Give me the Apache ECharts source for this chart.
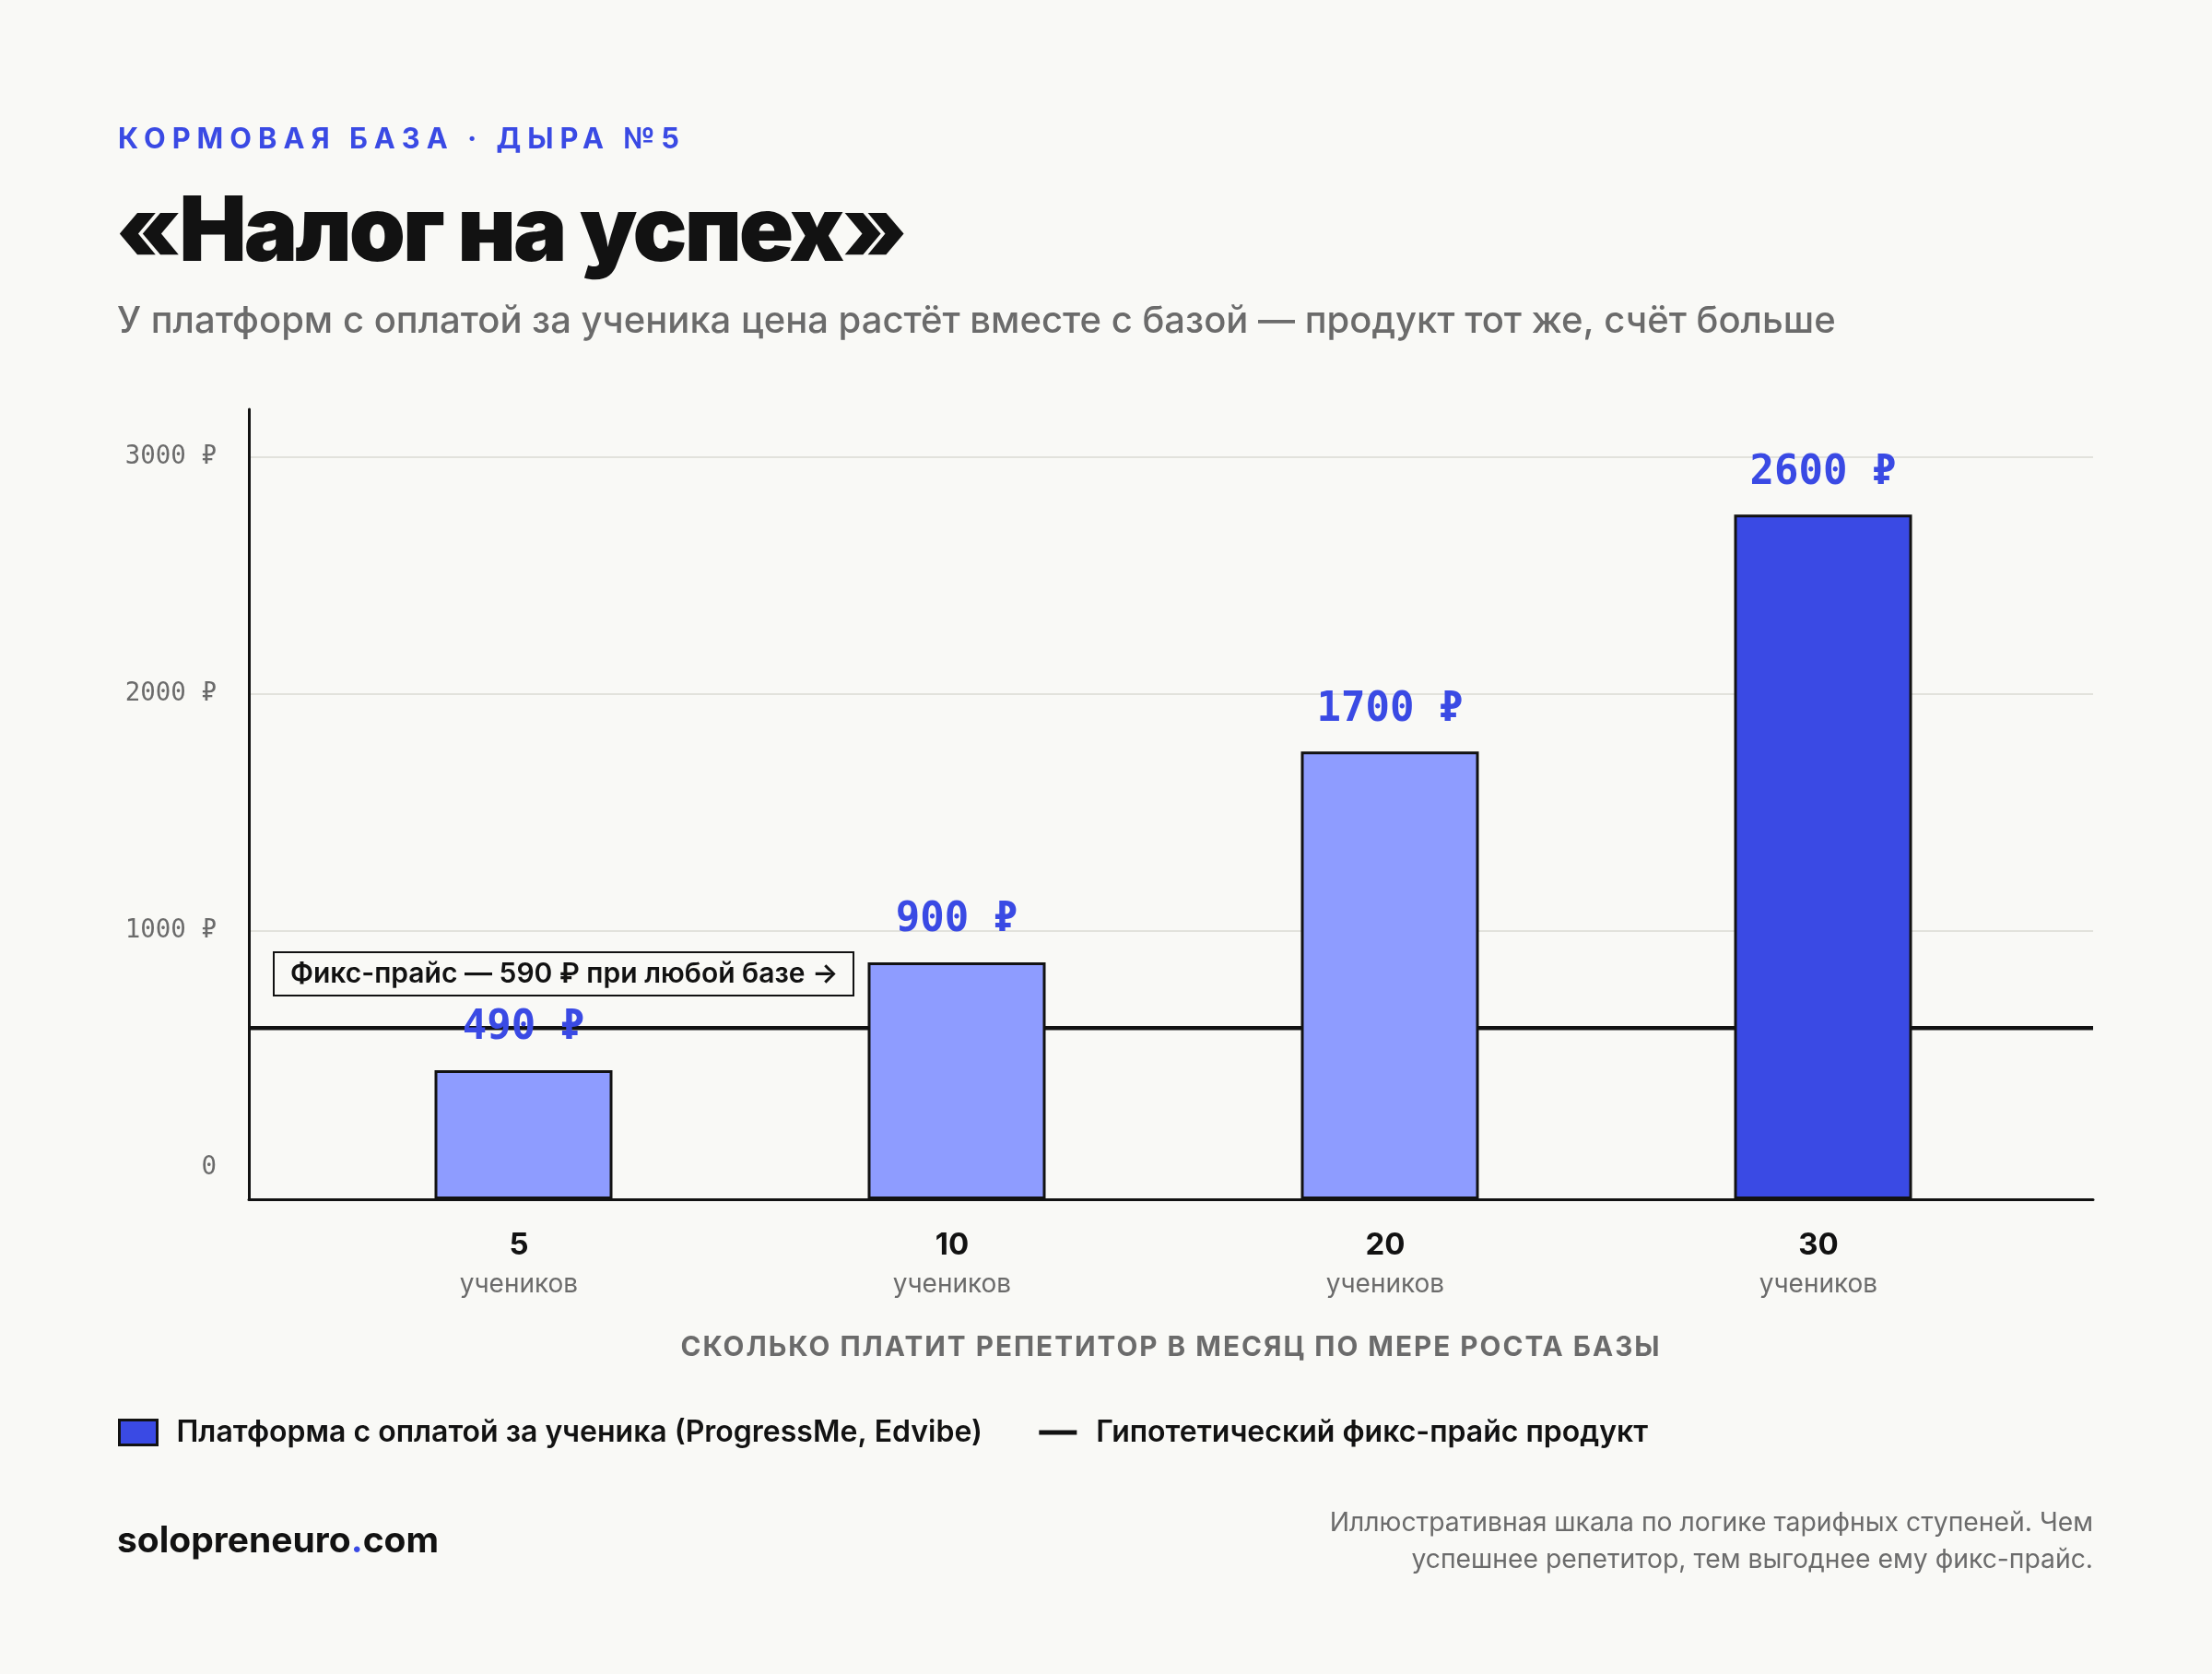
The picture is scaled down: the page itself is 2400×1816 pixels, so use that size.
<!DOCTYPE html>
<html>
<head>
<meta charset="utf-8">
<script src="https://cdn.jsdelivr.net/npm/echarts@6/dist/echarts.min.js"></script>
<style>
  html, body { margin: 0; padding: 0; background: #f9f9f6; }
  #chart { width: 2400px; height: 1816px; }
</style>
</head>
<body>
<div id="chart"></div>
<script>
// ---- data ----
const categories = ['5', '10', '20', '30'];
const categoryUnit = 'учеников';
const platformPrices = [490, 900, 1700, 2600];
const fixPrice = 590;
const yTickValues = [0, 1000, 2000, 3000];
const seriesNames = ['Платформа с оплатой за ученика (ProgressMe, Edvibe)', 'Гипотетический фикс-прайс продукт'];

// letter-spacing support: font family marker "lsNx" / "lsmNx"
(function () {
  const P = CanvasRenderingContext2D.prototype;
  const orig = P.fillText;
  P.fillText = function (t, x, y, m) {
    const f = this.font;
    const mt = /ls(m?)(\d+)x/.exec(f);
    if (mt && 'letterSpacing' in this) {
      this.letterSpacing = (mt[1] ? '-' : '') + mt[2] + 'px';
      this.font = f;
      if (m === undefined) orig.call(this, t, x, y); else orig.call(this, t, x, y, m);
      this.letterSpacing = '0px';
      this.font = f;
      return;
    }
    if ('letterSpacing' in this && this.letterSpacing !== '0px') { this.letterSpacing = '0px'; this.font = f; }
    if (m === undefined) return orig.call(this, t, x, y);
    return orig.call(this, t, x, y, m);
  };
})();

const BG = '#f9f9f6';
const BLUE = '#3a4ae4';
const LIGHT = '#8e9cff';
const INK = '#121212';
const GRAY = '#6b6b6b';
const SANS = 'Inter, "Noto Sans", sans-serif';
const MONO = '"DejaVu Sans Mono", "Liberation Mono", monospace';

const chart = echarts.init(document.getElementById('chart'), null, { renderer: 'canvas' });

const option = {
  backgroundColor: BG,
  animation: false,
  title: [
    { text: 'КОРМОВАЯ БАЗА · ДЫРА №5', left: 123, top: 127,
      textStyle: { fontFamily: 'Inter, ls7x, sans-serif', fontSize: 30.8, fontWeight: 700, color: BLUE, lineHeight: 40 } },
    { text: '«Налог на успех»', left: 121, top: 194,
      textStyle: { fontFamily: 'Inter, lsm3x, sans-serif', fontSize: 98, fontWeight: 900, color: INK, lineHeight: 110 } },
    { text: 'У платформ с оплатой за ученика цена растёт вместе с базой — продукт тот же, счёт больше', left: 122, top: 320,
      textStyle: { fontFamily: SANS, fontSize: 40, fontWeight: 500, color: GRAY, lineHeight: 48 } },
    { text: '{a|solopreneuro}{b|.}{a|com}', left: 122, top: 1645,
      textStyle: { rich: {
        a: { fontFamily: SANS, fontSize: 39, fontWeight: 700, color: INK, lineHeight: 44 },
        b: { fontFamily: SANS, fontSize: 39, fontWeight: 700, color: BLUE, lineHeight: 44 } } } },
    { text: 'Иллюстративная шкала по логике тарифных ступеней. Чем\nуспешнее репетитор, тем выгоднее ему фикс-прайс.',
      left: 2266, top: 1627, textAlign: 'right',
      textStyle: { fontFamily: SANS, fontSize: 28.3, fontWeight: 400, color: GRAY, lineHeight: 40 } }
  ],
  legend: {
    left: 123, top: 1533,
    itemWidth: 41, itemHeight: 27, itemGap: 59,
    selectedMode: false,
    textStyle: { fontFamily: SANS, fontSize: 32, fontWeight: 600, color: INK, lineHeight: 32, padding: [0, 0, 0, 16] },
    data: [
      { name: seriesNames[0], icon: 'rect', itemStyle: { color: BLUE, borderColor: INK, borderWidth: 3 } },
      { name: seriesNames[1], itemStyle: { color: 'rgba(0,0,0,0)', borderColor: 'rgba(0,0,0,0)', borderWidth: 0 },
        lineStyle: { color: INK, width: 5 } }
    ]
  },
  grid: [
    { left: 270, right: 129, top: 496, bottom: 549 },   // 0: labels, gridlines, fix line
    { left: 333, right: 187, top: 444, bottom: 515 },   // 1: bars
    { left: 270, right: 129, top: 444, bottom: 515 }    // 2: frame axes
  ],
  xAxis: [
    { gridIndex: 0, type: 'value', min: 0, max: 1, show: false },
    { gridIndex: 1, type: 'category', data: categories,
      axisLine: { show: false }, axisTick: { show: false },
      axisLabel: { margin: 30, padding: [0, 10, 0, 0], formatter: v => '{n|' + v + '}\n{u|' + categoryUnit + '}',
        rich: { n: { fontFamily: SANS, fontSize: 33, fontWeight: 700, color: INK, lineHeight: 40 },
                u: { fontFamily: SANS, fontSize: 28, fontWeight: 400, color: GRAY, lineHeight: 46 } } } },
    { gridIndex: 2, type: 'value', min: 0, max: 1,
      axisLine: { show: true, lineStyle: { color: INK, width: 3 } },
      axisTick: { show: false }, axisLabel: { show: false }, splitLine: { show: false },
      name: 'СКОЛЬКО ПЛАТИТ РЕПЕТИТОР В МЕСЯЦ ПО МЕРЕ РОСТА БАЗЫ', nameLocation: 'middle', nameGap: 146,
      nameTextStyle: { fontFamily: 'Inter, ls2x, sans-serif', fontSize: 29.7, fontWeight: 700, color: GRAY } }
  ],
  yAxis: [
    { gridIndex: 0, type: 'value', min: yTickValues[0], max: yTickValues[yTickValues.length - 1], interval: 1000,
      axisLine: { show: false }, axisTick: { show: false },
      axisLabel: { margin: 35, fontFamily: MONO, fontSize: 27.5, color: GRAY,
        formatter: v => v === 0 ? '0' : v + ' ₽' },
      splitLine: { show: true, lineStyle: { color: ['rgba(0,0,0,0)', '#e2e2dc', '#e2e2dc', '#e2e2dc'], width: 2 } } },
    { gridIndex: 1, type: 'value', min: 0, max: 3000, show: false, splitLine: { show: false } },
    { gridIndex: 2, type: 'value', min: 0, max: 1,
      axisLine: { show: true, lineStyle: { color: INK, width: 3 } },
      axisTick: { show: false }, axisLabel: { show: false }, splitLine: { show: false } }
  ],
  series: [
    { name: seriesNames[1], type: 'line', xAxisIndex: 0, yAxisIndex: 0, z: 1,
      symbol: 'none', showSymbol: false,
      lineStyle: { color: INK, width: 4.5 }, itemStyle: { color: INK },
      data: [[0, fixPrice], [1, fixPrice]] },
    { name: seriesNames[0], type: 'bar', xAxisIndex: 1, yAxisIndex: 1, z: 3,
      barWidth: 193,
      itemStyle: { color: p => p.dataIndex === platformPrices.length - 1 ? BLUE : LIGHT, borderColor: INK, borderWidth: 3 },
      label: { show: true, position: 'top', distance: 22, formatter: '{c} ₽',
        fontFamily: MONO, fontSize: 44, fontWeight: 700, color: BLUE, lineHeight: 46 },
      data: platformPrices }
  ],
  graphic: [
    { type: 'rect', z: 10, shape: { x: 297, y: 1033, width: 629, height: 47 },
      style: { fill: BG, stroke: INK, lineWidth: 2 } },
    { type: 'text', z: 11, x: 315, y: 1057,
      style: { text: 'Фикс-прайс — ' + fixPrice + ' ₽ при любой базе →', font: '600 30px Inter, "Noto Sans", sans-serif',
        fill: INK, verticalAlign: 'middle', align: 'left' } }
  ]
};
chart.setOption(option);
</script>
</body>
</html>
